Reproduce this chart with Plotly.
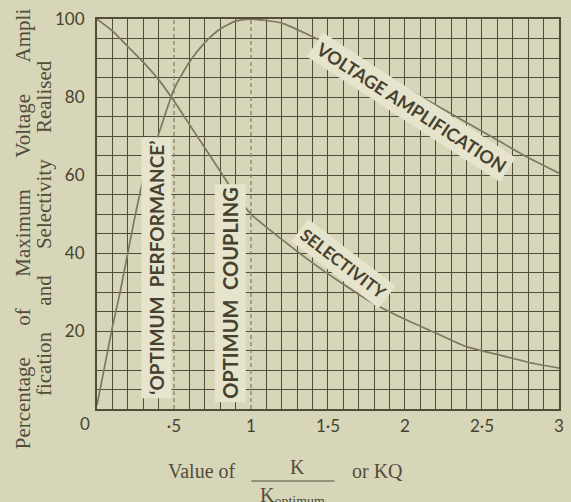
import plotly.graph_objects as go

# ---- data ----
k_voltage = [0, 0.05, 0.1, 0.15, 0.2, 0.25, 0.3, 0.35, 0.4, 0.5, 0.6, 0.7, 0.8, 0.9, 1.0,
             1.2, 1.4, 1.6, 1.8, 2.0, 2.2, 2.4, 2.6, 2.8, 3.0]
voltage_pct = [1, 11, 21, 30, 40, 50, 59, 65, 70.5, 82, 89, 94, 97.5, 99.5, 100,
               99, 95.5, 91.5, 87, 82.5, 78, 73.5, 69, 64.5, 60.5]

k_selectivity = [0, 0.1, 0.2, 0.3, 0.4, 0.5, 0.6, 0.7, 0.8, 0.9, 1.0,
                 1.2, 1.4, 1.6, 1.8, 2.0, 2.2, 2.4, 2.6, 2.8, 3.0]
selectivity_pct = [100, 97, 93, 89, 84.5, 79, 73, 67, 61, 55, 50,
                   43.5, 37.5, 32, 27, 23, 19.5, 16, 14, 12, 10.5]

optimum_k = [0.5, 1.0]

x_tick_vals = [0.5, 1, 1.5, 2, 2.5, 3]
x_tick_text = ["·5", "1", "1·5", "2", "2·5", "3"]
y_tick_vals = [20, 40, 60, 80, 100]
y_tick_text = ["20", "40", "60", "80", "100"]
x_grid_vals = [i / 10 for i in range(31) if i not in (5, 10)]

# ---- styling ----
W, H = 571, 502
L, R, T, B = 97, 7, 19, 93
PW, PH = W - L - R, H - T - B

def px(x):
    return (x - L) / PW

def py(y):
    return (H - B - y) / PH

PAGE = "#d8d6b8"
LABEL_BG = "#e6e4cc"
GRID = "#524d38"
CURVE = "#7c7862"
INK = "#46422f"
TITLE_INK = "#514d3b"
SERIF = "Liberation Serif"
SANS = "Lato"

fig = go.Figure()

for k in optimum_k:
    fig.add_trace(go.Scatter(x=[k, k], y=[0, 100], mode="lines",
                             line=dict(color="#8c8872", width=1.4, dash="4px,3px"),
                             hoverinfo="skip", showlegend=False))

fig.add_trace(go.Scatter(x=k_voltage, y=voltage_pct, mode="lines",
                         line=dict(color=CURVE, width=1.7, shape="spline", smoothing=0.6),
                         showlegend=False, name="Voltage amplification"))
fig.add_trace(go.Scatter(x=k_selectivity, y=selectivity_pct, mode="lines",
                         line=dict(color=CURVE, width=1.7, shape="spline", smoothing=0.6),
                         showlegend=False, name="Selectivity"))

nb = "\u00a0"
annotations = [
    dict(text="Percentage" + nb * 6 + "of" + nb * 6 + "Maximum" + nb * 6 + "Voltage" + nb * 6 + "Ampli",
         x=px(22), y=py(228.5), textangle=-90, font=dict(family=SERIF, size=21, color=TITLE_INK)),
    dict(text="fication" + nb * 5 + "and" + nb * 5 + "Selectivity" + nb * 5 + "Realised",
         x=px(43), y=py(228.5), textangle=-90, font=dict(family=SERIF, size=21, color=TITLE_INK)),
    dict(text="Value of", x=px(203), y=py(471), font=dict(family=SERIF, size=20, color=TITLE_INK)),
    dict(text="K", x=px(300), y=py(467), font=dict(family=SERIF, size=20, color=TITLE_INK)),
    dict(text="K<sub>optimum</sub>", x=px(295), y=py(496), font=dict(family=SERIF, size=20, color=TITLE_INK)),
    dict(text="or KQ", x=px(381), y=py(471), font=dict(family=SERIF, size=20, color=TITLE_INK)),
    dict(text="0", x=px(85), y=py(423), font=dict(family=SANS, size=17, color=INK)),
]
for a in annotations:
    a.update(xref="paper", yref="paper", showarrow=False, xanchor="center", yanchor="middle")

curve_labels = [
    dict(text="VOLTAGE AMPLIFICATION", x=2.04, y=77.5, textangle=33, size=18),
    dict(text="SELECTIVITY", x=1.6, y=37.3, textangle=37.5, size=17),
    dict(text="‘OPTIMUM  PERFORMANCE’", x=0.389, y=36.2, textangle=-90, size=19),
    dict(text="OPTIMUM  COUPLING", x=0.867, y=29.7, textangle=-90, size=20),
]
for c in curve_labels:
    annotations.append(dict(text=c["text"], x=c["x"], y=c["y"], xref="x", yref="y",
                            textangle=c["textangle"], showarrow=False,
                            xanchor="center", yanchor="middle",
                            bgcolor=LABEL_BG, borderpad=3,
                            font=dict(family=SANS, size=c["size"], color=INK, weight=700)))

fig.update_layout(
    width=W, height=H,
    margin=dict(l=L, r=R, t=T, b=B, pad=0),
    paper_bgcolor=PAGE, plot_bgcolor=PAGE,
    annotations=annotations,
    shapes=[dict(type="line", xref="paper", yref="paper", x0=px(253), x1=px(337),
                 y0=py(481), y1=py(481), line=dict(color=TITLE_INK, width=1.2))],
    xaxis=dict(range=[0, 3.0005], tickvals=x_tick_vals, ticktext=x_tick_text,
               showgrid=False, zeroline=False, showline=True, mirror=True,
               linecolor=GRID, linewidth=2, ticks="", ticklabelstandoff=1,
               tickfont=dict(family=SANS, size=17, color=INK),
               minor=dict(tickmode="array", tickvals=x_grid_vals, showgrid=True,
                          gridcolor=GRID, gridwidth=1.3, ticks="")),
    yaxis=dict(range=[0, 100.05], tickvals=y_tick_vals, ticktext=y_tick_text,
               showgrid=True, gridcolor=GRID, gridwidth=1.3,
               zeroline=False, showline=True, mirror=True,
               linecolor=GRID, linewidth=2, ticks="", ticklabelstandoff=7,
               tickfont=dict(family=SANS, size=17, color=INK),
               minor=dict(dtick=5, showgrid=True, gridcolor=GRID, gridwidth=1.3, ticks="")),
)

fig.write_html("out.html", config={"displayModeBar": False},
               post_script="document.body.style.margin='0';document.body.style.overflow='hidden';")
